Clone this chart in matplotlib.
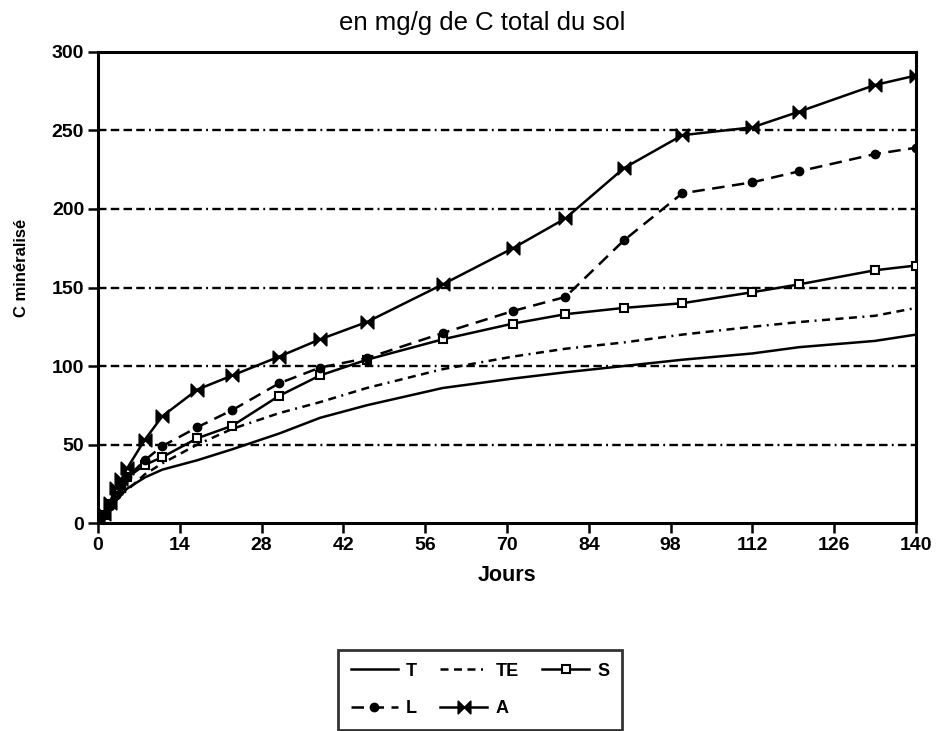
import matplotlib
matplotlib.use("Agg")
import matplotlib.pyplot as plt
from matplotlib.path import Path

plt.rcParams['font.family'] = ['Liberation Sans', 'DejaVu Sans']

# Sampling days (incubation) and cumulative mineralised C (mg/g of total soil C)
jours = [0, 1, 2, 3, 4, 5, 8, 11, 17, 23, 31, 38, 46, 59, 71, 80, 90, 100, 112, 120, 133, 140]
serie_T = [0, 4, 9, 14, 18, 22, 29, 34, 40, 47, 57, 67, 75, 86, 92, 96, 100, 104, 108, 112, 116, 120]
serie_TE = [0, 4, 9, 14, 18, 21, 31, 38, 50, 60, 70, 77, 86, 98, 106, 111, 115, 120, 125, 128, 132, 137]
serie_S = [0, 5, 12, 19, 24, 29, 37, 42, 54, 62, 81, 94, 104, 117, 127, 133, 137, 140, 147, 152, 161, 164]
serie_L = [0, 5, 11, 18, 24, 29, 40, 49, 61, 72, 89, 99, 105, 121, 135, 144, 180, 210, 217, 224, 235, 239]
serie_A = [0, 6, 13, 22, 28, 35, 53, 68, 85, 94, 106, 117, 128, 152, 175, 194, 226, 247, 252, 262, 279, 285]

x_ticks = [0, 14, 28, 42, 56, 70, 84, 98, 112, 126, 140]
y_ticks = [0, 50, 100, 150, 200, 250, 300]
grid_levels = [50, 100, 150, 200, 250]

titre = "en mg/g de C total du sol"
label_x = "Jours"
label_y = "C minéralisé"

fig = plt.figure(figsize=(9.39, 7.31), dpi=100)
ax = fig.add_axes([0.1044, 0.2845, 0.8711, 0.6444])

# bow-tie marker for series A
bowtie = Path([(-1, -1), (1, 1), (1, -1), (-1, 1), (-1, -1)],
              [Path.MOVETO, Path.LINETO, Path.LINETO, Path.LINETO, Path.CLOSEPOLY])

for g in grid_levels:
    ax.axhline(g, color='black', lw=1.7,
               dashes=(3.6, 1.8, 3.6, 1.8, 3.6, 1.8, 3.6, 1.8, 0.8, 1.8), zorder=1)

lT, = ax.plot(jours, serie_T, color='black', lw=1.8, zorder=3)
lTE, = ax.plot(jours, serie_TE, color='black', lw=1.8,
               dashes=(3.2, 2.2, 3.2, 2.2, 3.2, 2.2, 0.8, 2.2), zorder=3)
lS, = ax.plot(jours, serie_S, color='black', lw=1.8, marker='s', ms=6, mfc='white',
              mec='black', mew=1.5, zorder=4)
lL, = ax.plot(jours, serie_L, color='black', lw=1.8, dashes=(5, 3), marker='o', ms=6,
              mfc='black', mec='black', zorder=4)
lA, = ax.plot(jours, serie_A, color='black', lw=1.8, marker=bowtie, ms=9, mfc='black',
              mec='black', mew=1.2, zorder=5)

ax.set_xlim(0, 140)
ax.set_ylim(0, 300)
ax.set_xticks(x_ticks)
ax.set_yticks(y_ticks)
ax.tick_params(direction='out', length=7, width=1.8, labelsize=14, pad=3)
for lab in ax.get_xticklabels() + ax.get_yticklabels():
    lab.set_fontweight('bold')
for sp in ax.spines.values():
    sp.set_linewidth(2.2)

ax.set_xlabel(label_x, fontsize=15.5, fontweight='bold', labelpad=8)
fig.text(22 / 939, 1 - 268 / 731, label_y, rotation=90, ha='center', va='center',
         fontsize=12, fontweight='bold')
fig.text(482 / 939, 1 - 23 / 731, titre, ha='center', va='center', fontsize=18.5)

leg = fig.legend([lT, lL, lTE, lA, lS], ["T", "L", "TE", "A", "S"], ncol=3,
                 loc='upper left', bbox_to_anchor=(338 / 939, 1 - 650 / 731),
                 prop={'size': 13, 'weight': 'bold'}, frameon=True, fancybox=False,
                 handlelength=2.6, handletextpad=0.45, columnspacing=1.3,
                 borderpad=0.7, labelspacing=1.15, borderaxespad=0)
leg.get_frame().set_edgecolor('black')
leg.get_frame().set_linewidth(2.0)

fig.savefig("out.png", dpi=100)
